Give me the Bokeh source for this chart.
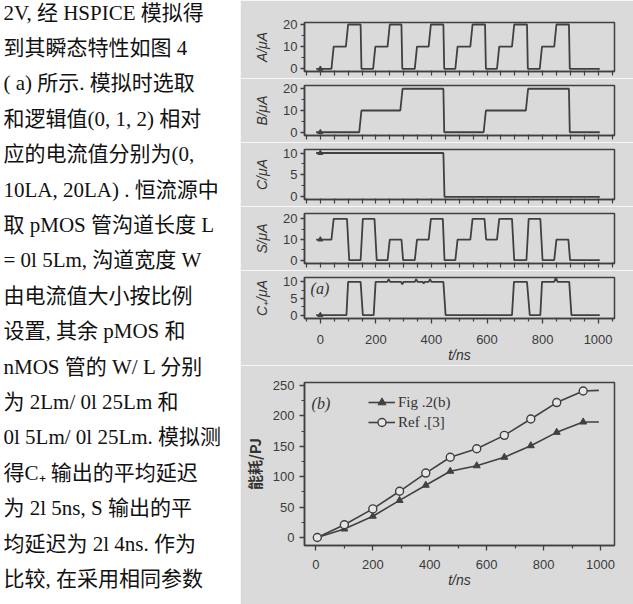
from bokeh.plotting import figure
from bokeh.layouts import row, column
from bokeh.models import Range1d, FixedTicker, Legend, LegendItem, Label
from bokeh.core.properties import value
from bokeh.embed import file_html
from bokeh.resources import INLINE

# ---------------- data ----------------
text_lines = [
    "2V, 经 HSPICE 模拟得",
    "到其瞬态特性如图 4",
    "( a) 所示. 模拟时选取",
    "和逻辑值(0, 1, 2) 相对",
    "应的电流值分别为(0,",
    "10LA, 20LA) . 恒流源中",
    "取 pMOS 管沟道长度 L",
    "= 0l 5Lm, 沟道宽度 W",
    "由电流值大小按比例",
    "设置, 其余 pMOS 和",
    "nMOS 管的 W/ L 分别",
    "为  2Lm/ 0l 25Lm  和",
    "0l 5Lm/ 0l 25Lm. 模拟测",
    "得C₊ 输出的平均延迟",
    "为 2l 5ns, S 输出的平",
    "均延迟为 2l 4ns. 作为",
    "比较, 在采用相同参数",
]

x_ticks = [0, 200, 400, 600, 800, 1000]
x_minor = [-50, 50, 100, 150, 250, 300, 350, 450, 500, 550, 650, 700, 750, 850, 900, 950, 1050]

A_t = [-15, 40, 48, 92, 100, 145, 148, 190, 198, 242, 250, 292, 295, 340, 348, 390, 398, 443, 446,
       486, 494, 540, 548, 593, 596, 636, 644, 690, 698, 744, 747, 790, 798, 842, 850, 895, 898, 1006]
A_v = [0, 0, 10, 10, 20, 20, 0, 0, 10, 10, 20, 20, 0, 0, 10, 10, 20, 20, 0,
       0, 10, 10, 20, 20, 0, 0, 10, 10, 20, 20, 0, 0, 10, 10, 20, 20, 0, 0]

B_t = [-15, 140, 148, 288, 296, 443, 446, 588, 596, 740, 748, 895, 898, 1006]
B_v = [0, 0, 10, 10, 20, 20, 0, 0, 10, 10, 20, 20, 0, 0]

C_t = [-15, 443, 447, 1006]
C_v = [10, 10, 0, 0]

S_t = [-15, 40, 48, 96, 104, 145, 153, 195, 203, 242, 250, 292, 298, 340, 348, 390, 398, 441, 447,
       486, 494, 540, 548, 591, 597, 636, 644, 690, 698, 742, 750, 792, 800, 842, 850, 893, 899, 1006]
S_v = [10, 10, 20, 20, 0, 0, 20, 20, 0, 0, 10, 10, 0, 0, 10, 10, 20, 20, 0,
       0, 10, 10, 20, 20, 10, 10, 20, 20, 0, 0, 20, 20, 0, 0, 10, 10, 0, 0]

Cp_t = [-15, 94, 100, 145, 153, 192, 199, 241, 246, 251, 290, 295, 300, 340, 345, 350, 368, 372, 376,
        390, 395, 400, 443, 451, 690, 697, 744, 754, 792, 798, 842, 848, 854, 896, 904, 1006]
Cp_v = [0, 0, 10, 10, 0, 0, 10, 10, 10.8, 10, 10, 9.3, 10, 10, 10.8, 10, 10, 9.5, 10,
        10, 10.8, 10, 10, 0, 0, 10, 10, 0, 0, 10, 10, 11.3, 10, 10, 0, 0]

start_t = [0]

E_t = [5, 100, 200, 294, 386, 472, 565, 662, 755, 846, 939]
E_fig2b = [0, 14, 35, 61, 86, 109, 118, 132, 151, 173, 190]
E_ref3 = [0, 21, 47, 76, 106, 132, 146, 168, 195, 222, 241]
E_tail_t = [994]
E_fig2b_tail = [190]
E_ref3_tail = [242]
E_yticks = [0, 50, 100, 150, 200, 250]

# ---------------- style ----------------
BG = "#dadada"
INK = "#404040"
TICK_FONT = "Liberation Sans"
LAB_FONT = "Liberation Serif"

# ---------------- text column ----------------
tf = figure(width=240, height=604, x_range=Range1d(0, 240), y_range=Range1d(604, 0),
            x_axis_type=None, y_axis_type=None, output_backend="svg",
            toolbar_location=None, min_border=0)
tf.grid.visible = False
tf.outline_line_color = None
tf.background_fill_color = "white"
tf.border_fill_color = "white"
line_y = [12 + i * 35.4 for i in range(len(text_lines))]
tf.text(x=[3] * len(text_lines), y=line_y, text=text_lines,
        text_font=value("'Liberation Serif', 'Noto Sans CJK SC'"),
        text_font_size="21px", text_baseline="middle", text_align="left",
        text_color="#111111")


def style_common(p):
    p.grid.visible = False
    p.background_fill_color = BG
    p.border_fill_color = BG
    p.outline_line_color = INK
    p.outline_line_width = 1.5
    for ax in (p.xaxis[0], p.yaxis[0]):
        ax.axis_line_color = INK
        ax.axis_line_width = 1.5
        ax.major_tick_line_color = INK
        ax.minor_tick_line_color = INK
        ax.major_tick_line_width = 1.3
        ax.minor_tick_line_width = 1.2
        ax.major_tick_out = 5
        ax.major_tick_in = 0
        ax.minor_tick_out = 3
        ax.minor_tick_in = 0
        ax.major_label_text_color = "#3a3a3a"
        ax.major_label_text_font = TICK_FONT
        ax.major_label_text_font_size = "13px"
        ax.axis_label_text_color = "#333333"
        ax.axis_label_text_font = TICK_FONT
        ax.axis_label_text_font_size = "14px"
        ax.axis_label_text_font_style = "italic"


def wave_panel(t, v, label, yticks, yminor, yrange, h, top, bottom, show_x=False):
    p = figure(width=393, height=h, x_range=Range1d(-57, 1059), y_range=Range1d(*yrange),
               output_backend="svg", toolbar_location=None,
               min_border_left=56, min_border_right=16, min_border_top=top, min_border_bottom=bottom)
    style_common(p)
    p.line(t, v, line_color=INK, line_width=1.8)
    p.scatter(start_t, [v[0]], marker="triangle", size=5, color=INK)
    p.yaxis.ticker = FixedTicker(ticks=yticks, minor_ticks=yminor)
    p.yaxis.axis_label = label
    p.yaxis.axis_label_standoff = 10
    p.yaxis.major_label_standoff = 3
    p.yaxis.major_tick_out = 4
    if show_x:
        p.xaxis.ticker = FixedTicker(ticks=x_ticks, minor_ticks=x_minor)
        p.xaxis.axis_label = "t/ns"
        p.xaxis.axis_label_standoff = 0
        p.xaxis.major_label_standoff = 11
    else:
        # tick marks only, no tick labels on the stacked panels
        p.xaxis.ticker = FixedTicker(ticks=[], minor_ticks=sorted(x_ticks + x_minor))
        p.xaxis.minor_tick_out = 4
        p.xaxis.minor_tick_in = 1
        p.xaxis.major_label_standoff = 0
    return p


pA = wave_panel(A_t, A_v, "A/μA", [0, 10, 20], [5, 15], (-1.2, 20.9), 78, 22, 7)
pB = wave_panel(B_t, B_v, "B/μA", [0, 10, 20], [5, 15], (-1.5, 21.5), 64, 7, 7)
pC = wave_panel(C_t, C_v, "C/μA", [0, 5, 10], [2.5, 7.5], (-0.6, 10.8), 64, 7, 7)
pS = wave_panel(S_t, S_v, "S/μA", [0, 10, 20], [5, 15], (-1.6, 22.6), 64, 7, 7)
pCp = wave_panel(Cp_t, Cp_v, "C₊/μA", [0, 5, 10], [2.5, 7.5], (-1.0, 11.3), 95, 7, 38, show_x=True)
pCp.add_layout(Label(x=-35, y=7.9, text="(a)", text_font=LAB_FONT, text_font_style="italic",
                     text_font_size="16px", text_color="#333333", text_baseline="middle"))

# ---------------- energy panel ----------------
pE = figure(width=393, height=239, x_range=Range1d(-40, 1049), y_range=Range1d(-13.2, 255),
            output_backend="svg", toolbar_location=None,
            min_border_left=61, min_border_right=19, min_border_top=17, min_border_bottom=59)
style_common(pE)
pE.xaxis.ticker = FixedTicker(ticks=x_ticks, minor_ticks=[100, 300, 500, 700, 900])
pE.yaxis.ticker = FixedTicker(ticks=E_yticks, minor_ticks=[25, 75, 125, 175, 225])
pE.xaxis.axis_label = "t/ns"
pE.xaxis.axis_label_standoff = 0
pE.xaxis.major_label_standoff = 9
pE.yaxis.axis_label = "能耗/PJ"
pE.yaxis.axis_label_text_font = "Noto Sans CJK SC"
pE.yaxis.axis_label_text_font_style = "bold"
pE.yaxis.axis_label_text_font_size = "15px"
pE.yaxis.axis_label_standoff = 5
pE.yaxis.major_label_standoff = 5

l1 = pE.line(E_t + E_tail_t, E_fig2b + E_fig2b_tail, line_color=INK, line_width=1.6)
s1 = pE.scatter(E_t, E_fig2b, marker="triangle", size=7, color=INK)
l2 = pE.line(E_t + E_tail_t, E_ref3 + E_ref3_tail, line_color=INK, line_width=1.6)
s2 = pE.scatter(E_t, E_ref3, marker="circle", size=8, line_color=INK, line_width=1.4, fill_color="#e6e6e6")

leg = Legend(items=[LegendItem(label="Fig .2(b)", renderers=[l1, s1]),
                    LegendItem(label="Ref .[3]", renderers=[l2, s2])],
             location=(64, 113), padding=0, margin=0, spacing=0,
             glyph_width=27, glyph_height=20, label_height=20, label_standoff=3,
             border_line_color=None, background_fill_alpha=0,
             label_text_font=LAB_FONT, label_text_font_size="15px", label_text_color="#333333")
pE.add_layout(leg)
pE.add_layout(Label(x=-15, y=220, text="(b)", text_font=LAB_FONT, text_font_style="italic",
                    text_font_size="16px", text_color="#333333", text_baseline="middle"))

layout = row(tf, column(pA, pB, pC, pS, pCp, pE))
open("out.html", "w").write(file_html(layout, INLINE))
